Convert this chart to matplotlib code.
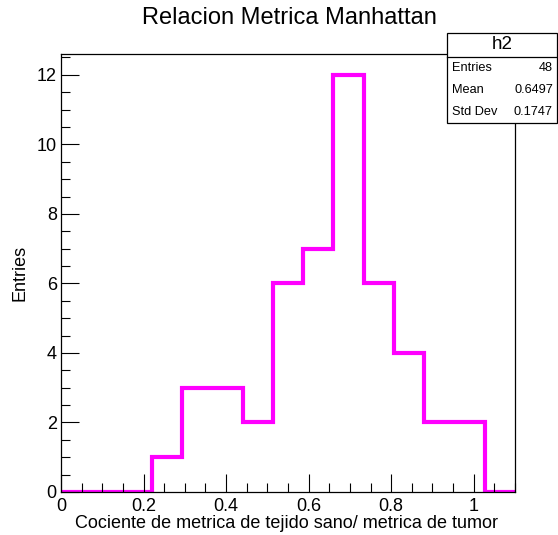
import matplotlib
matplotlib.use("Agg")
import matplotlib.pyplot as plt
import numpy as np
from matplotlib.ticker import MultipleLocator

plt.rcParams['font.family'] = ['Liberation Sans', 'DejaVu Sans']

# Histogram: 15 bins from 0 to 1.1
bin_lo = 0.0
bin_hi = 1.1
n_bins = 15
counts = [0, 0, 0, 1, 3, 3, 2, 6, 7, 12, 6, 4, 2, 2, 0]
title = "Relacion Metrica Manhattan"
xlabel = "Cociente de metrica de tejido sano/ metrica de tumor"
ylabel = "Entries"
stats_name = "h2"
stats_rows = [("Entries", "48"), ("Mean", "0.6497"), ("Std Dev", "0.1747")]

edges = np.linspace(bin_lo, bin_hi, n_bins + 1)

fig = plt.figure(figsize=(5.58, 5.35), dpi=100)
W, H = 558, 535
ax = fig.add_axes([61 / W, (535 - 492) / H, (515 - 61) / W, (492 - 54) / H])

ax.stairs(counts, edges, color='#ff00ff', linewidth=3.0, baseline=None)

ax.set_xlim(bin_lo, bin_hi)
ax.set_ylim(0, 12.6)

ax.xaxis.set_major_locator(MultipleLocator(0.2))
ax.xaxis.set_minor_locator(MultipleLocator(0.05))
ax.yaxis.set_major_locator(MultipleLocator(2))
ax.yaxis.set_minor_locator(MultipleLocator(0.5))
ax.xaxis.set_major_formatter(matplotlib.ticker.FuncFormatter(lambda v, p: ('%g' % round(v, 3))))

ax.tick_params(axis='both', which='both', direction='in', top=False, right=False,
               labelsize=13, width=0.8, color='black')
ax.tick_params(axis='both', which='major', length=13)
ax.tick_params(axis='both', which='minor', length=6.5)
ax.tick_params(axis='x', which='major', pad=4)
ax.tick_params(axis='y', which='major', pad=3)
for sp in ax.spines.values():
    sp.set_linewidth(0.9)

ax.set_xlabel(xlabel, fontsize=13, ha='right', x=(498 - 61) / 454, labelpad=0)
ax.set_ylabel(ylabel, fontsize=13, labelpad=6)

fig.text(0.5 * (143 + 435) / W, 1 - 18 / H, title, ha='center', va='center', fontsize=17)

# stats box
bx0, by_top, bx1, by_bot, by_div = 447 / W, 1 - 33 / H, 557 / W, 1 - 123 / H, 1 - 57 / H
box = plt.Rectangle((bx0, by_bot), bx1 - bx0, by_top - by_bot, transform=fig.transFigure,
                    facecolor='white', edgecolor='black', linewidth=0.9, zorder=5)
fig.add_artist(box)
fig.add_artist(plt.Line2D([bx0, bx1], [by_div, by_div], transform=fig.transFigure,
                          color='black', linewidth=0.9, zorder=6))
fig.text((bx0 + bx1) / 2, (by_top + by_div) / 2, stats_name, ha='center', va='center',
         fontsize=13.5, zorder=7)
row_h = (by_div - by_bot) / len(stats_rows)
for i, (k, v) in enumerate(stats_rows):
    yc = by_div - (i + 0.5) * row_h
    fig.text(bx0 + 5 / W, yc, k, ha='left', va='center', fontsize=9.2, zorder=7)
    fig.text(bx1 - 4 / W, yc, v, ha='right', va='center', fontsize=9.2, zorder=7)

fig.savefig('out.png', dpi=100)
